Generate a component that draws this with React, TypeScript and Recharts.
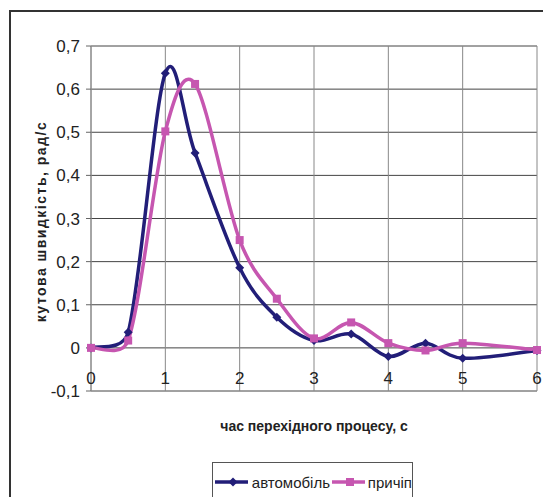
import React from "react";
import {
  LineChart,
  Line,
  XAxis,
  YAxis,
  CartesianGrid,
  Legend,
} from "recharts";

// час, с
const times = [0, 0.5, 1, 1.4, 2, 2.5, 3, 3.5, 4, 4.5, 5, 6];
// кутова швидкість автомобіля, рад/с
const carValues = [0, 0.036, 0.637, 0.452, 0.186, 0.071, 0.017, 0.032, -0.02, 0.011, -0.024, -0.006];
// кутова швидкість причепа, рад/с
const trailerValues = [0, 0.017, 0.502, 0.612, 0.25, 0.114, 0.022, 0.059, 0.011, -0.006, 0.011, -0.005];

const xTicks = [0, 1, 2, 3, 4, 5, 6];
const yTicks = [-0.1, 0, 0.1, 0.2, 0.3, 0.4, 0.5, 0.6, 0.7];

const data = times.map((t, i) => ({
  t,
  car: carValues[i],
  trailer: trailerValues[i],
}));

const FONT = '"Liberation Sans", Arial, sans-serif';
const NAVY = "#221e78";
const PINK = "#c656b0";

// smoothed line close to excel's "smoothed line":
// catmull-rom tangents (1/6), control arm limited to half of the segment
const dist = (a: number[], b: number[]) => Math.hypot(b[0] - a[0], b[1] - a[1]);
const arm = (from: number[], vx: number, vy: number, seg: number, sign: number) => {
  let ax = vx / 6;
  let ay = vy / 6;
  const len = Math.hypot(ax, ay);
  const max = seg * 0.5;
  if (len > max && len > 0) {
    ax *= max / len;
    ay *= max / len;
  }
  return [from[0] + sign * ax, from[1] + sign * ay];
};
const excelCurve = (context: any) => {
  let pts: number[][] = [];
  return {
    areaStart() {},
    areaEnd() {},
    lineStart() {
      pts = [];
    },
    point(x: number, y: number) {
      pts.push([+x, +y]);
    },
    lineEnd() {
      const n = pts.length;
      if (!n) return;
      context.moveTo(pts[0][0], pts[0][1]);
      for (let i = 0; i < n - 1; i++) {
        const p0 = pts[Math.max(i - 1, 0)];
        const p1 = pts[i];
        const p2 = pts[i + 1];
        const p3 = pts[Math.min(i + 2, n - 1)];
        const seg = dist(p1, p2);
        const c1 = arm(p1, p2[0] - p0[0], p2[1] - p0[1], seg, 1);
        const c2 = arm(p2, p3[0] - p1[0], p3[1] - p1[1], seg, -1);
        context.bezierCurveTo(c1[0], c1[1], c2[0], c2[1], p2[0], p2[1]);
      }
    },
  };
};

const Diamond = (props: any) => {
  const { cx, cy, index } = props;
  const r = 4.5;
  return (
    <polygon
      key={`car-${index}`}
      points={`${cx},${cy - r} ${cx + r},${cy} ${cx},${cy + r} ${cx - r},${cy}`}
      fill={NAVY}
    />
  );
};

const Square = (props: any) => {
  const { cx, cy, index } = props;
  const s = 8;
  return <rect key={`tr-${index}`} x={cx - s / 2} y={cy - s / 2} width={s} height={s} fill={PINK} />;
};

const fmt = (v: number) => String(Math.round(v * 10) / 10).replace(".", ",");

const XTick = (props: any) => {
  const { x, y, payload } = props;
  return (
    <text x={x} y={y} dy={-7} textAnchor="middle" fill="#222" fontSize={17} fontFamily={FONT}>
      {payload.value}
    </text>
  );
};

const YTitle = (props: any) => {
  const vb = props.viewBox;
  const cx = vb.x + 41;
  const cy = vb.y + vb.height / 2 + 3;
  return (
    <text
      x={cx}
      y={cy}
      transform={`rotate(-90 ${cx} ${cy})`}
      textAnchor="middle"
      dominantBaseline="central"
      fontFamily={FONT}
      fontWeight="bold"
      fontSize={14}
      letterSpacing={1.5}
      fill="#222"
    >
      кутова швидкість, рад/с
    </text>
  );
};

const XTitle = (props: any) => {
  const vb = props.viewBox;
  return (
    <text
      x={vb.x + vb.width / 2}
      y={vb.y + 40}
      textAnchor="middle"
      fontFamily={FONT}
      fontWeight="bold"
      fontSize={14}
      fill="#222"
    >
      час перехідного процесу, с
    </text>
  );
};

const LegendIcon = ({ color, square }: { color: string; square: boolean }) => (
  <svg width={36} height={12} style={{ display: "block" }}>
    <line x1={0} y1={6} x2={36} y2={6} stroke={color} strokeWidth={3.5} />
    {square ? (
      <rect x={14} y={2} width={8} height={8} fill={color} />
    ) : (
      <polygon points="18,1.5 22.5,6 18,10.5 13.5,6" fill={color} />
    )}
  </svg>
);

const LegendBox = () => (
  <div
    style={{
      border: "1px solid #555",
      height: 40,
      boxSizing: "border-box",
      display: "flex",
      alignItems: "center",
      paddingLeft: 2,
      fontFamily: FONT,
      fontSize: 15,
      color: "#222",
      background: "#fff",
    }}
  >
    <LegendIcon color={NAVY} square={false} />
    <span style={{ marginLeft: 4, marginRight: 2 }}>автомобіль</span>
    <LegendIcon color={PINK} square={true} />
    <span style={{ marginLeft: 3 }}>причіп</span>
  </div>
);

export default function App() {
  return (
    <div
      style={{
        position: "absolute",
        left: 0,
        top: 0,
        width: 543,
        height: 497,
        overflow: "hidden",
        background: "#fff",
      }}
    >
      <div
        style={{
          position: "absolute",
          left: 9,
          top: 10,
          width: 600,
          height: 600,
          borderTop: "2px solid #333",
          borderLeft: "2px solid #333",
        }}
      />
      <LineChart
        width={543}
        height={497}
        data={data}
        margin={{ top: 46, right: 6, bottom: 66, left: 0 }}
        style={{ position: "absolute", left: 0, top: 0 }}
      >
        <CartesianGrid vertical={false} stroke="#444" horizontalValues={yTicks} />
        <CartesianGrid horizontal={false} stroke="#888" verticalValues={xTicks} />
        <XAxis
          dataKey="t"
          type="number"
          domain={[0, 6]}
          ticks={xTicks}
          height={40}
          axisLine={false}
          tickLine={false}
          tickSize={0}
          tickMargin={0}
          tick={<XTick />}
          label={{ content: <XTitle /> }}
        />
        <YAxis
          type="number"
          domain={[-0.1, 0.7]}
          ticks={yTicks}
          width={91}
          tickFormatter={fmt}
          axisLine={{ stroke: "#888" }}
          tickLine={{ stroke: "#666" }}
          tickSize={5}
          tickMargin={6}
          tick={{ fill: "#222", fontSize: 17, fontFamily: FONT }}
          label={{ content: <YTitle /> }}
        />
        <Line
          dataKey="car"
          name="автомобіль"
          type={excelCurve as any}
          stroke={NAVY}
          strokeWidth={3.5}
          dot={Diamond}
          activeDot={false}
          isAnimationActive={false}
        />
        <Line
          dataKey="trailer"
          name="причіп"
          type={excelCurve as any}
          stroke={PINK}
          strokeWidth={3.5}
          dot={Square}
          activeDot={false}
          isAnimationActive={false}
        />
        <Legend
          layout="vertical"
          verticalAlign="middle"
          align="center"
          content={<LegendBox />}
          wrapperStyle={{ left: 212, top: 462, width: 201, height: 40 }}
        />
      </LineChart>
    </div>
  );
}
